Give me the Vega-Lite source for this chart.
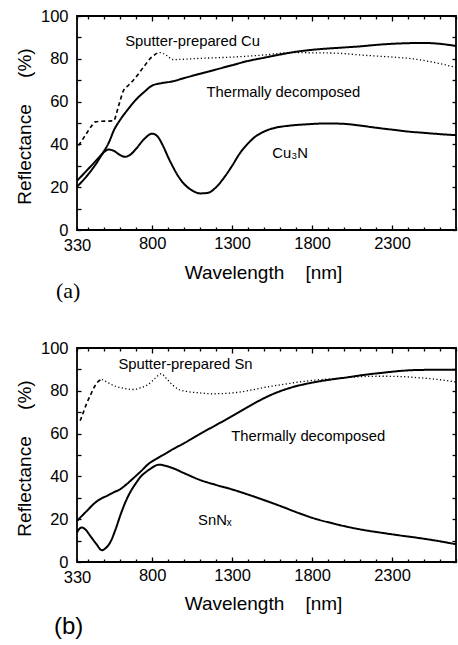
{
  "$schema": "https://vega.github.io/schema/vega-lite/v6.json",
  "background": "white",
  "padding": {"left": 14, "top": 7, "right": 0, "bottom": 0},
  "spacing": 118,
  "bounds": "flush",
  "datasets": {
    "cu": [
      {"sample": "Thermally decomposed", "segment": "full", "wavelength": 330, "reflectance": 23},
      {"sample": "Thermally decomposed", "segment": "full", "wavelength": 400, "reflectance": 28.5},
      {"sample": "Thermally decomposed", "segment": "full", "wavelength": 450, "reflectance": 32.5},
      {"sample": "Thermally decomposed", "segment": "full", "wavelength": 500, "reflectance": 37},
      {"sample": "Thermally decomposed", "segment": "full", "wavelength": 530, "reflectance": 41},
      {"sample": "Thermally decomposed", "segment": "full", "wavelength": 560, "reflectance": 46.5},
      {"sample": "Thermally decomposed", "segment": "full", "wavelength": 600, "reflectance": 51.5},
      {"sample": "Thermally decomposed", "segment": "full", "wavelength": 650, "reflectance": 56.5},
      {"sample": "Thermally decomposed", "segment": "full", "wavelength": 700, "reflectance": 61},
      {"sample": "Thermally decomposed", "segment": "full", "wavelength": 750, "reflectance": 64.5},
      {"sample": "Thermally decomposed", "segment": "full", "wavelength": 800, "reflectance": 67.5},
      {"sample": "Thermally decomposed", "segment": "full", "wavelength": 850, "reflectance": 68.5},
      {"sample": "Thermally decomposed", "segment": "full", "wavelength": 930, "reflectance": 69.5},
      {"sample": "Thermally decomposed", "segment": "full", "wavelength": 1000, "reflectance": 71},
      {"sample": "Thermally decomposed", "segment": "full", "wavelength": 1100, "reflectance": 73},
      {"sample": "Thermally decomposed", "segment": "full", "wavelength": 1200, "reflectance": 75},
      {"sample": "Thermally decomposed", "segment": "full", "wavelength": 1300, "reflectance": 77},
      {"sample": "Thermally decomposed", "segment": "full", "wavelength": 1400, "reflectance": 79},
      {"sample": "Thermally decomposed", "segment": "full", "wavelength": 1500, "reflectance": 80.5},
      {"sample": "Thermally decomposed", "segment": "full", "wavelength": 1600, "reflectance": 82},
      {"sample": "Thermally decomposed", "segment": "full", "wavelength": 1700, "reflectance": 83.3},
      {"sample": "Thermally decomposed", "segment": "full", "wavelength": 1800, "reflectance": 84.2},
      {"sample": "Thermally decomposed", "segment": "full", "wavelength": 1900, "reflectance": 84.8},
      {"sample": "Thermally decomposed", "segment": "full", "wavelength": 2000, "reflectance": 85.3},
      {"sample": "Thermally decomposed", "segment": "full", "wavelength": 2100, "reflectance": 85.8},
      {"sample": "Thermally decomposed", "segment": "full", "wavelength": 2200, "reflectance": 86.5},
      {"sample": "Thermally decomposed", "segment": "full", "wavelength": 2300, "reflectance": 87},
      {"sample": "Thermally decomposed", "segment": "full", "wavelength": 2400, "reflectance": 87.3},
      {"sample": "Thermally decomposed", "segment": "full", "wavelength": 2500, "reflectance": 87.4},
      {"sample": "Thermally decomposed", "segment": "full", "wavelength": 2600, "reflectance": 87},
      {"sample": "Thermally decomposed", "segment": "full", "wavelength": 2700, "reflectance": 86},
      {"sample": "Cu3N", "segment": "full", "wavelength": 330, "reflectance": 20.2},
      {"sample": "Cu3N", "segment": "full", "wavelength": 400, "reflectance": 26},
      {"sample": "Cu3N", "segment": "full", "wavelength": 450, "reflectance": 31},
      {"sample": "Cu3N", "segment": "full", "wavelength": 500, "reflectance": 36.5},
      {"sample": "Cu3N", "segment": "full", "wavelength": 530, "reflectance": 37.6},
      {"sample": "Cu3N", "segment": "full", "wavelength": 560, "reflectance": 37},
      {"sample": "Cu3N", "segment": "full", "wavelength": 600, "reflectance": 35},
      {"sample": "Cu3N", "segment": "full", "wavelength": 630, "reflectance": 34.2},
      {"sample": "Cu3N", "segment": "full", "wavelength": 660, "reflectance": 35},
      {"sample": "Cu3N", "segment": "full", "wavelength": 700, "reflectance": 38},
      {"sample": "Cu3N", "segment": "full", "wavelength": 750, "reflectance": 42.5},
      {"sample": "Cu3N", "segment": "full", "wavelength": 800, "reflectance": 45},
      {"sample": "Cu3N", "segment": "full", "wavelength": 830, "reflectance": 44},
      {"sample": "Cu3N", "segment": "full", "wavelength": 870, "reflectance": 39},
      {"sample": "Cu3N", "segment": "full", "wavelength": 900, "reflectance": 34},
      {"sample": "Cu3N", "segment": "full", "wavelength": 930, "reflectance": 29.5},
      {"sample": "Cu3N", "segment": "full", "wavelength": 960, "reflectance": 25.5},
      {"sample": "Cu3N", "segment": "full", "wavelength": 1000, "reflectance": 21.5},
      {"sample": "Cu3N", "segment": "full", "wavelength": 1050, "reflectance": 18.5},
      {"sample": "Cu3N", "segment": "full", "wavelength": 1100, "reflectance": 17.1},
      {"sample": "Cu3N", "segment": "full", "wavelength": 1150, "reflectance": 17.4},
      {"sample": "Cu3N", "segment": "full", "wavelength": 1200, "reflectance": 20},
      {"sample": "Cu3N", "segment": "full", "wavelength": 1250, "reflectance": 24.5},
      {"sample": "Cu3N", "segment": "full", "wavelength": 1300, "reflectance": 30},
      {"sample": "Cu3N", "segment": "full", "wavelength": 1350, "reflectance": 36},
      {"sample": "Cu3N", "segment": "full", "wavelength": 1400, "reflectance": 40.5},
      {"sample": "Cu3N", "segment": "full", "wavelength": 1450, "reflectance": 43.9},
      {"sample": "Cu3N", "segment": "full", "wavelength": 1500, "reflectance": 46},
      {"sample": "Cu3N", "segment": "full", "wavelength": 1550, "reflectance": 47.4},
      {"sample": "Cu3N", "segment": "full", "wavelength": 1650, "reflectance": 48.7},
      {"sample": "Cu3N", "segment": "full", "wavelength": 1750, "reflectance": 49.3},
      {"sample": "Cu3N", "segment": "full", "wavelength": 1900, "reflectance": 49.8},
      {"sample": "Cu3N", "segment": "full", "wavelength": 2000, "reflectance": 49.6},
      {"sample": "Cu3N", "segment": "full", "wavelength": 2100, "reflectance": 48.8},
      {"sample": "Cu3N", "segment": "full", "wavelength": 2200, "reflectance": 47.8},
      {"sample": "Cu3N", "segment": "full", "wavelength": 2300, "reflectance": 46.9},
      {"sample": "Cu3N", "segment": "full", "wavelength": 2400, "reflectance": 46},
      {"sample": "Cu3N", "segment": "full", "wavelength": 2500, "reflectance": 45.4},
      {"sample": "Cu3N", "segment": "full", "wavelength": 2600, "reflectance": 44.8},
      {"sample": "Cu3N", "segment": "full", "wavelength": 2700, "reflectance": 44.3},
      {"sample": "Sputter-prepared Cu", "segment": "short", "wavelength": 340, "reflectance": 39.5},
      {"sample": "Sputter-prepared Cu", "segment": "short", "wavelength": 380, "reflectance": 44},
      {"sample": "Sputter-prepared Cu", "segment": "short", "wavelength": 420, "reflectance": 48.5},
      {"sample": "Sputter-prepared Cu", "segment": "short", "wavelength": 444, "reflectance": 50.5},
      {"sample": "Sputter-prepared Cu", "segment": "short", "wavelength": 480, "reflectance": 50.8},
      {"sample": "Sputter-prepared Cu", "segment": "short", "wavelength": 558, "reflectance": 51},
      {"sample": "Sputter-prepared Cu", "segment": "short", "wavelength": 590, "reflectance": 58},
      {"sample": "Sputter-prepared Cu", "segment": "short", "wavelength": 620, "reflectance": 65},
      {"sample": "Sputter-prepared Cu", "segment": "short", "wavelength": 650, "reflectance": 67.5},
      {"sample": "Sputter-prepared Cu", "segment": "short", "wavelength": 682, "reflectance": 70},
      {"sample": "Sputter-prepared Cu", "segment": "short", "wavelength": 745, "reflectance": 76},
      {"sample": "Sputter-prepared Cu", "segment": "short", "wavelength": 790, "reflectance": 80.3},
      {"sample": "Sputter-prepared Cu", "segment": "short", "wavelength": 825, "reflectance": 82.4},
      {"sample": "Sputter-prepared Cu", "segment": "long", "wavelength": 825, "reflectance": 82.4},
      {"sample": "Sputter-prepared Cu", "segment": "long", "wavelength": 848, "reflectance": 82.9},
      {"sample": "Sputter-prepared Cu", "segment": "long", "wavelength": 890, "reflectance": 81.6},
      {"sample": "Sputter-prepared Cu", "segment": "long", "wavelength": 931, "reflectance": 79.6},
      {"sample": "Sputter-prepared Cu", "segment": "long", "wavelength": 1000, "reflectance": 79.8},
      {"sample": "Sputter-prepared Cu", "segment": "long", "wavelength": 1100, "reflectance": 80.2},
      {"sample": "Sputter-prepared Cu", "segment": "long", "wavelength": 1300, "reflectance": 80.8},
      {"sample": "Sputter-prepared Cu", "segment": "long", "wavelength": 1500, "reflectance": 81.8},
      {"sample": "Sputter-prepared Cu", "segment": "long", "wavelength": 1678, "reflectance": 82.9},
      {"sample": "Sputter-prepared Cu", "segment": "long", "wavelength": 1800, "reflectance": 82.8},
      {"sample": "Sputter-prepared Cu", "segment": "long", "wavelength": 1927, "reflectance": 82.7},
      {"sample": "Sputter-prepared Cu", "segment": "long", "wavelength": 2134, "reflectance": 81.6},
      {"sample": "Sputter-prepared Cu", "segment": "long", "wavelength": 2341, "reflectance": 80.6},
      {"sample": "Sputter-prepared Cu", "segment": "long", "wavelength": 2450, "reflectance": 79.8},
      {"sample": "Sputter-prepared Cu", "segment": "long", "wavelength": 2549, "reflectance": 78.5},
      {"sample": "Sputter-prepared Cu", "segment": "long", "wavelength": 2700, "reflectance": 76}
    ],
    "cuLabels": [
      {"label": "Sputter-prepared Cu", "wavelength": 631, "reflectance": 87.9},
      {"label": "Thermally decomposed", "wavelength": 1140, "reflectance": 64.1},
      {"label": "Cu₃N", "wavelength": 1551, "reflectance": 35.5}
    ],
    "sn": [
      {"sample": "Thermally decomposed", "segment": "full", "wavelength": 330, "reflectance": 19.2},
      {"sample": "Thermally decomposed", "segment": "full", "wavelength": 392, "reflectance": 23.9},
      {"sample": "Thermally decomposed", "segment": "full", "wavelength": 440, "reflectance": 27.5},
      {"sample": "Thermally decomposed", "segment": "full", "wavelength": 475, "reflectance": 29.4},
      {"sample": "Thermally decomposed", "segment": "full", "wavelength": 520, "reflectance": 31},
      {"sample": "Thermally decomposed", "segment": "full", "wavelength": 558, "reflectance": 32.5},
      {"sample": "Thermally decomposed", "segment": "full", "wavelength": 600, "reflectance": 34},
      {"sample": "Thermally decomposed", "segment": "full", "wavelength": 641, "reflectance": 36.4},
      {"sample": "Thermally decomposed", "segment": "full", "wavelength": 680, "reflectance": 39},
      {"sample": "Thermally decomposed", "segment": "full", "wavelength": 724, "reflectance": 42},
      {"sample": "Thermally decomposed", "segment": "full", "wavelength": 780, "reflectance": 46},
      {"sample": "Thermally decomposed", "segment": "full", "wavelength": 828, "reflectance": 48.3},
      {"sample": "Thermally decomposed", "segment": "full", "wavelength": 880, "reflectance": 50.5},
      {"sample": "Thermally decomposed", "segment": "full", "wavelength": 931, "reflectance": 52.8},
      {"sample": "Thermally decomposed", "segment": "full", "wavelength": 1000, "reflectance": 55.5},
      {"sample": "Thermally decomposed", "segment": "full", "wavelength": 1097, "reflectance": 59.8},
      {"sample": "Thermally decomposed", "segment": "full", "wavelength": 1200, "reflectance": 64},
      {"sample": "Thermally decomposed", "segment": "full", "wavelength": 1305, "reflectance": 68.4},
      {"sample": "Thermally decomposed", "segment": "full", "wavelength": 1400, "reflectance": 72.5},
      {"sample": "Thermally decomposed", "segment": "full", "wavelength": 1512, "reflectance": 77},
      {"sample": "Thermally decomposed", "segment": "full", "wavelength": 1600, "reflectance": 79.8},
      {"sample": "Thermally decomposed", "segment": "full", "wavelength": 1678, "reflectance": 81.7},
      {"sample": "Thermally decomposed", "segment": "full", "wavelength": 1760, "reflectance": 83.2},
      {"sample": "Thermally decomposed", "segment": "full", "wavelength": 1844, "reflectance": 84.4},
      {"sample": "Thermally decomposed", "segment": "full", "wavelength": 1930, "reflectance": 85.4},
      {"sample": "Thermally decomposed", "segment": "full", "wavelength": 2030, "reflectance": 86.4},
      {"sample": "Thermally decomposed", "segment": "full", "wavelength": 2130, "reflectance": 87.5},
      {"sample": "Thermally decomposed", "segment": "full", "wavelength": 2238, "reflectance": 88.4},
      {"sample": "Thermally decomposed", "segment": "full", "wavelength": 2340, "reflectance": 89.2},
      {"sample": "Thermally decomposed", "segment": "full", "wavelength": 2445, "reflectance": 89.7},
      {"sample": "Thermally decomposed", "segment": "full", "wavelength": 2550, "reflectance": 89.8},
      {"sample": "Thermally decomposed", "segment": "full", "wavelength": 2700, "reflectance": 89.8},
      {"sample": "SnNx", "segment": "full", "wavelength": 330, "reflectance": 13.8},
      {"sample": "SnNx", "segment": "full", "wavelength": 345, "reflectance": 15.5},
      {"sample": "SnNx", "segment": "full", "wavelength": 361, "reflectance": 16.1},
      {"sample": "SnNx", "segment": "full", "wavelength": 385, "reflectance": 15},
      {"sample": "SnNx", "segment": "full", "wavelength": 413, "reflectance": 12.2},
      {"sample": "SnNx", "segment": "full", "wavelength": 450, "reflectance": 8.5},
      {"sample": "SnNx", "segment": "full", "wavelength": 486, "reflectance": 5.5},
      {"sample": "SnNx", "segment": "full", "wavelength": 510, "reflectance": 6.5},
      {"sample": "SnNx", "segment": "full", "wavelength": 537, "reflectance": 9.1},
      {"sample": "SnNx", "segment": "full", "wavelength": 570, "reflectance": 15},
      {"sample": "SnNx", "segment": "full", "wavelength": 600, "reflectance": 21.6},
      {"sample": "SnNx", "segment": "full", "wavelength": 630, "reflectance": 27.5},
      {"sample": "SnNx", "segment": "full", "wavelength": 662, "reflectance": 32.5},
      {"sample": "SnNx", "segment": "full", "wavelength": 700, "reflectance": 37},
      {"sample": "SnNx", "segment": "full", "wavelength": 724, "reflectance": 39.5},
      {"sample": "SnNx", "segment": "full", "wavelength": 760, "reflectance": 42},
      {"sample": "SnNx", "segment": "full", "wavelength": 786, "reflectance": 43.4},
      {"sample": "SnNx", "segment": "full", "wavelength": 844, "reflectance": 45.5},
      {"sample": "SnNx", "segment": "full", "wavelength": 880, "reflectance": 45},
      {"sample": "SnNx", "segment": "full", "wavelength": 931, "reflectance": 43.8},
      {"sample": "SnNx", "segment": "full", "wavelength": 1000, "reflectance": 41.5},
      {"sample": "SnNx", "segment": "full", "wavelength": 1097, "reflectance": 38.4},
      {"sample": "SnNx", "segment": "full", "wavelength": 1200, "reflectance": 36},
      {"sample": "SnNx", "segment": "full", "wavelength": 1305, "reflectance": 33.8},
      {"sample": "SnNx", "segment": "full", "wavelength": 1400, "reflectance": 31.5},
      {"sample": "SnNx", "segment": "full", "wavelength": 1512, "reflectance": 28.6},
      {"sample": "SnNx", "segment": "full", "wavelength": 1600, "reflectance": 26.2},
      {"sample": "SnNx", "segment": "full", "wavelength": 1719, "reflectance": 22.8},
      {"sample": "SnNx", "segment": "full", "wavelength": 1820, "reflectance": 20.2},
      {"sample": "SnNx", "segment": "full", "wavelength": 1927, "reflectance": 18.1},
      {"sample": "SnNx", "segment": "full", "wavelength": 2030, "reflectance": 16.3},
      {"sample": "SnNx", "segment": "full", "wavelength": 2134, "reflectance": 14.8},
      {"sample": "SnNx", "segment": "full", "wavelength": 2240, "reflectance": 13.6},
      {"sample": "SnNx", "segment": "full", "wavelength": 2341, "reflectance": 12.5},
      {"sample": "SnNx", "segment": "full", "wavelength": 2450, "reflectance": 11.4},
      {"sample": "SnNx", "segment": "full", "wavelength": 2549, "reflectance": 10.3},
      {"sample": "SnNx", "segment": "full", "wavelength": 2700, "reflectance": 8.3},
      {"sample": "Sputter-prepared Sn", "segment": "short", "wavelength": 350, "reflectance": 66},
      {"sample": "Sputter-prepared Sn", "segment": "short", "wavelength": 370, "reflectance": 70},
      {"sample": "Sputter-prepared Sn", "segment": "short", "wavelength": 390, "reflectance": 74},
      {"sample": "Sputter-prepared Sn", "segment": "short", "wavelength": 413, "reflectance": 77.8},
      {"sample": "Sputter-prepared Sn", "segment": "short", "wavelength": 444, "reflectance": 82.5},
      {"sample": "Sputter-prepared Sn", "segment": "short", "wavelength": 470, "reflectance": 84.8},
      {"sample": "Sputter-prepared Sn", "segment": "short", "wavelength": 486, "reflectance": 85.3},
      {"sample": "Sputter-prepared Sn", "segment": "long", "wavelength": 486, "reflectance": 85.3},
      {"sample": "Sputter-prepared Sn", "segment": "long", "wavelength": 520, "reflectance": 84},
      {"sample": "Sputter-prepared Sn", "segment": "long", "wavelength": 558, "reflectance": 82.5},
      {"sample": "Sputter-prepared Sn", "segment": "long", "wavelength": 620, "reflectance": 81.2},
      {"sample": "Sputter-prepared Sn", "segment": "long", "wavelength": 682, "reflectance": 80.6},
      {"sample": "Sputter-prepared Sn", "segment": "long", "wavelength": 730, "reflectance": 81.5},
      {"sample": "Sputter-prepared Sn", "segment": "long", "wavelength": 765, "reflectance": 82.5},
      {"sample": "Sputter-prepared Sn", "segment": "long", "wavelength": 800, "reflectance": 84.5},
      {"sample": "Sputter-prepared Sn", "segment": "long", "wavelength": 835, "reflectance": 87},
      {"sample": "Sputter-prepared Sn", "segment": "long", "wavelength": 859, "reflectance": 88},
      {"sample": "Sputter-prepared Sn", "segment": "long", "wavelength": 880, "reflectance": 86.5},
      {"sample": "Sputter-prepared Sn", "segment": "long", "wavelength": 931, "reflectance": 82.5},
      {"sample": "Sputter-prepared Sn", "segment": "long", "wavelength": 970, "reflectance": 80.5},
      {"sample": "Sputter-prepared Sn", "segment": "long", "wavelength": 1014, "reflectance": 79.7},
      {"sample": "Sputter-prepared Sn", "segment": "long", "wavelength": 1100, "reflectance": 79},
      {"sample": "Sputter-prepared Sn", "segment": "long", "wavelength": 1180, "reflectance": 78.6},
      {"sample": "Sputter-prepared Sn", "segment": "long", "wavelength": 1260, "reflectance": 78.8},
      {"sample": "Sputter-prepared Sn", "segment": "long", "wavelength": 1346, "reflectance": 79.4},
      {"sample": "Sputter-prepared Sn", "segment": "long", "wavelength": 1430, "reflectance": 80.5},
      {"sample": "Sputter-prepared Sn", "segment": "long", "wavelength": 1512, "reflectance": 81.7},
      {"sample": "Sputter-prepared Sn", "segment": "long", "wavelength": 1620, "reflectance": 83},
      {"sample": "Sputter-prepared Sn", "segment": "long", "wavelength": 1719, "reflectance": 84.1},
      {"sample": "Sputter-prepared Sn", "segment": "long", "wavelength": 1820, "reflectance": 85},
      {"sample": "Sputter-prepared Sn", "segment": "long", "wavelength": 1927, "reflectance": 85.6},
      {"sample": "Sputter-prepared Sn", "segment": "long", "wavelength": 2030, "reflectance": 86.2},
      {"sample": "Sputter-prepared Sn", "segment": "long", "wavelength": 2134, "reflectance": 86.7},
      {"sample": "Sputter-prepared Sn", "segment": "long", "wavelength": 2240, "reflectance": 86.8},
      {"sample": "Sputter-prepared Sn", "segment": "long", "wavelength": 2341, "reflectance": 86.7},
      {"sample": "Sputter-prepared Sn", "segment": "long", "wavelength": 2450, "reflectance": 86.2},
      {"sample": "Sputter-prepared Sn", "segment": "long", "wavelength": 2549, "reflectance": 85.6},
      {"sample": "Sputter-prepared Sn", "segment": "long", "wavelength": 2700, "reflectance": 84.1}
    ],
    "snLabels": [
      {"label": "Sputter-prepared Sn", "wavelength": 589, "reflectance": 92.2},
      {"label": "Thermally decomposed", "wavelength": 1295, "reflectance": 58.3},
      {"label": "SnNₓ", "wavelength": 1087, "reflectance": 19.2}
    ]
  },
  "vconcat": [
    {
      "width": 379,
      "height": 214,
      "title": {"text": "(a)", "orient": "bottom", "anchor": "start", "frame": "group", "font": "Liberation Serif", "fontSize": 22, "fontWeight": "normal", "color": "black", "baseline": "middle", "offset": 9, "dx": -21},
      "layer": [
        {
          "data": {"name": "cu"},
          "mark": {"type": "line", "color": "black", "interpolate": "monotone"},
          "encoding": {
            "x": {"field": "wavelength", "type": "quantitative", "scale": {"domain": [330, 2700], "nice": false, "zero": false},
              "axis": {"orient": "bottom", "title": "Wavelength\u00a0\u00a0\u00a0\u00a0[nm]", "format": "d", "values": [330, 400, 500, 600, 700, 800, 900, 1000, 1100, 1200, 1300, 1400, 1500, 1600, 1700, 1800, 1900, 2000, 2100, 2200, 2300, 2400, 2500, 2600, 2700],
                "labelExpr": "indexof([330,800,1300,1800,2300], datum.value) >= 0 ? datum.label : ''",
                "labelOverlap": false, "labelFlush": false, "labelPadding": 10,
                "tickSize": {"condition": {"test": "indexof([800,1300,1800,2300], datum.value) >= 0", "value": -5}, "value": -3},
                "titleX": 186, "titleY": 48, "titleBaseline": "alphabetic", "titleAnchor": "middle"}},
            "y": {"field": "reflectance", "type": "quantitative", "scale": {"domain": [0, 100], "nice": false},
              "axis": {"orient": "left", "title": "Reflectance\u00a0\u00a0\u00a0\u00a0\u00a0(%)", "values": [0, 10, 20, 30, 40, 50, 60, 70, 80, 90, 100],
                "labelExpr": "datum.value % 20 == 0 ? datum.label : ''", "labelOverlap": false, "labelFlush": false, "labelPadding": 13, "tickSize": -4,
                "titleX": -47, "titleY": 110, "titleBaseline": "alphabetic", "titleAlign": "center", "titleAngle": -90}},
            "detail": {"field": "sample"},
            "strokeDash": {"field": "segment", "type": "nominal", "scale": {"domain": ["full", "short", "long"], "range": [[1, 0], [4, 3], [1.2, 2.4]]}, "legend": null},
            "strokeWidth": {"field": "segment", "type": "nominal", "scale": {"domain": ["full", "short", "long"], "range": [2, 1.3, 1.6]}, "legend": null}
          }
        },
        {
          "data": {"name": "cuLabels"},
          "mark": {"type": "text", "align": "left", "baseline": "middle", "font": "Liberation Sans", "fontSize": 14.8, "color": "black"},
          "encoding": {
            "x": {"field": "wavelength", "type": "quantitative", "scale": {"domain": [330, 2700], "nice": false, "zero": false},
              "axis": {"orient": "top", "title": null, "labels": false, "values": [330, 400, 500, 600, 700, 800, 900, 1000, 1100, 1200, 1300, 1400, 1500, 1600, 1700, 1800, 1900, 2000, 2100, 2200, 2300, 2400, 2500, 2600, 2700],
                "tickSize": {"condition": {"test": "indexof([800,1300,1800,2300], datum.value) >= 0", "value": -5}, "value": -3}}},
            "y": {"field": "reflectance", "type": "quantitative", "scale": {"domain": [0, 100], "nice": false},
              "axis": {"orient": "right", "title": null, "labels": false, "values": [0, 10, 20, 30, 40, 50, 60, 70, 80, 90, 100], "tickSize": -4}},
            "text": {"field": "label"}
          }
        }
      ],
      "resolve": {"axis": {"x": "independent", "y": "independent"}}
    },
    {
      "width": 379,
      "height": 214,
      "title": {"text": "(b)", "orient": "bottom", "anchor": "start", "frame": "group", "font": "Liberation Sans", "fontSize": 24, "fontWeight": "normal", "color": "black", "baseline": "middle", "offset": 14, "dx": -23},
      "layer": [
        {
          "data": {"name": "sn"},
          "mark": {"type": "line", "color": "black", "interpolate": "monotone"},
          "encoding": {
            "x": {"field": "wavelength", "type": "quantitative", "scale": {"domain": [330, 2700], "nice": false, "zero": false},
              "axis": {"orient": "bottom", "title": "Wavelength\u00a0\u00a0\u00a0\u00a0[nm]", "format": "d", "values": [330, 400, 500, 600, 700, 800, 900, 1000, 1100, 1200, 1300, 1400, 1500, 1600, 1700, 1800, 1900, 2000, 2100, 2200, 2300, 2400, 2500, 2600, 2700],
                "labelExpr": "indexof([330,800,1300,1800,2300], datum.value) >= 0 ? datum.label : ''",
                "labelOverlap": false, "labelFlush": false, "labelPadding": 10,
                "tickSize": {"condition": {"test": "indexof([800,1300,1800,2300], datum.value) >= 0", "value": -5}, "value": -3},
                "titleX": 186, "titleY": 47, "titleBaseline": "alphabetic", "titleAnchor": "middle"}},
            "y": {"field": "reflectance", "type": "quantitative", "scale": {"domain": [0, 100], "nice": false},
              "axis": {"orient": "left", "title": "Reflectance\u00a0\u00a0\u00a0\u00a0\u00a0(%)", "values": [0, 10, 20, 30, 40, 50, 60, 70, 80, 90, 100],
                "labelExpr": "datum.value % 20 == 0 ? datum.label : ''", "labelOverlap": false, "labelFlush": false, "labelPadding": 13, "tickSize": -4,
                "titleX": -47, "titleY": 110, "titleBaseline": "alphabetic", "titleAlign": "center", "titleAngle": -90}},
            "detail": {"field": "sample"},
            "strokeDash": {"field": "segment", "type": "nominal", "scale": {"domain": ["full", "short", "long"], "range": [[1, 0], [4, 3], [1.2, 2.4]]}, "legend": null},
            "strokeWidth": {"field": "segment", "type": "nominal", "scale": {"domain": ["full", "short", "long"], "range": [2, 1.3, 1.6]}, "legend": null}
          }
        },
        {
          "data": {"name": "snLabels"},
          "mark": {"type": "text", "align": "left", "baseline": "middle", "font": "Liberation Sans", "fontSize": 14.8, "color": "black"},
          "encoding": {
            "x": {"field": "wavelength", "type": "quantitative", "scale": {"domain": [330, 2700], "nice": false, "zero": false},
              "axis": {"orient": "top", "title": null, "labels": false, "values": [330, 400, 500, 600, 700, 800, 900, 1000, 1100, 1200, 1300, 1400, 1500, 1600, 1700, 1800, 1900, 2000, 2100, 2200, 2300, 2400, 2500, 2600, 2700],
                "tickSize": {"condition": {"test": "indexof([800,1300,1800,2300], datum.value) >= 0", "value": -5}, "value": -3}}},
            "y": {"field": "reflectance", "type": "quantitative", "scale": {"domain": [0, 100], "nice": false},
              "axis": {"orient": "right", "title": null, "labels": false, "values": [0, 10, 20, 30, 40, 50, 60, 70, 80, 90, 100], "tickSize": -4}},
            "text": {"field": "label"}
          }
        }
      ],
      "resolve": {"axis": {"x": "independent", "y": "independent"}}
    }
  ],
  "config": {
    "view": {"stroke": "black", "strokeWidth": 1.8},
    "axis": {"domain": false, "grid": false, "tickColor": "black", "tickWidth": 1.3, "labelFont": "Liberation Sans", "labelFontSize": 16.5, "labelColor": "black", "titleFont": "Liberation Sans", "titleFontSize": 19, "titleFontWeight": "normal", "titleColor": "black"},
    "title": {"color": "black"}
  }
}
